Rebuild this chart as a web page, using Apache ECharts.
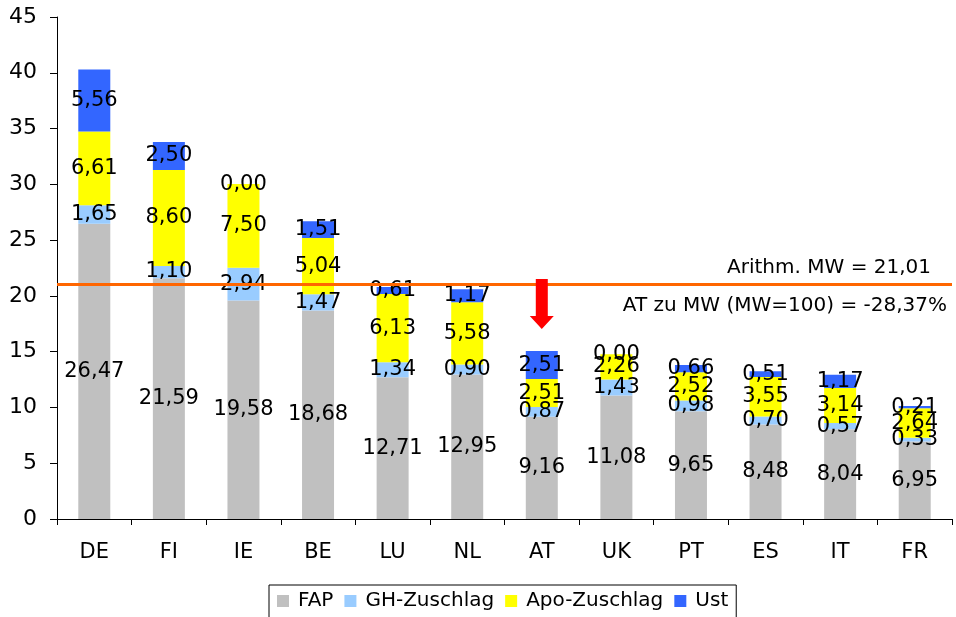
<!DOCTYPE html>
<html>
<head>
<meta charset="utf-8">
<script src="https://cdn.jsdelivr.net/npm/echarts@6/dist/echarts.min.js"></script>
<style>
  html, body { margin: 0; padding: 0; background: #ffffff; }
  #chart { width: 956px; height: 617px; }
</style>
</head>
<body>
<div id="chart"></div>
<script>
// Price components per country (stacked)
const countries = ['DE', 'FI', 'IE', 'BE', 'LU', 'NL', 'AT', 'UK', 'PT', 'ES', 'IT', 'FR'];
const fap         = [26.47, 21.59, 19.58, 18.68, 12.71, 12.95, 9.16, 11.08, 9.65, 8.48, 8.04, 6.95];
const ghZuschlag  = [1.65, 1.10, 2.94, 1.47, 1.34, 0.90, 0.87, 1.43, 0.98, 0.70, 0.57, 0.33];
const apoZuschlag = [6.61, 8.60, 7.50, 5.04, 6.13, 5.58, 2.51, 2.26, 2.52, 3.55, 3.14, 2.64];
const ust         = [5.56, 2.50, 0.00, 1.51, 0.61, 1.17, 2.51, 0.00, 0.66, 0.51, 1.17, 0.21];

const yTicks = { min: 0, max: 45, interval: 5 };
const meanValue = 21.01;
const meanText = 'Arithm. MW = 21,01';
const atText = 'AT zu MW (MW=100) = -28,37%';
const highlight = 'AT';

const FONT = '"DejaVu Sans", Verdana, sans-serif';
const fmt = v => v.toFixed(2).replace('.', ',');

const totals = countries.map((_, i) => fap[i] + ghZuschlag[i] + apoZuschlag[i] + ust[i]);
const hiIdx = countries.indexOf(highlight);

const labelStyle = {
  show: true,
  position: 'inside',
  color: '#000',
  fontFamily: FONT,
  fontSize: 21,
  formatter: p => fmt(p.value)
};

function barSeries(name, data, color) {
  return {
    name, type: 'bar', stack: 'total', data,
    barWidth: 32,
    itemStyle: { color },
    label: labelStyle,
    emphasis: { disabled: true }
  };
}

const series = [
  barSeries('FAP', fap, '#c0c0c0'),
  barSeries('GH-Zuschlag', ghZuschlag, '#99ccff'),
  barSeries('Apo-Zuschlag', apoZuschlag, '#ffff00'),
  barSeries('Ust', ust, '#3366ff')
];

// Mean line with its two annotations
series[3].markLine = {
  silent: true,
  symbol: 'none',
  lineStyle: { color: '#ff6600', width: 3, type: 'solid' },
  label: { color: '#000', fontFamily: FONT, fontSize: 20 },
  data: [
    { yAxis: meanValue, label: { position: 'insideEndTop', formatter: meanText, padding: [0, 16, 2, 0] } },
    { yAxis: meanValue, label: { position: 'insideEndBottom', formatter: atText, padding: [6, 0, 0, 0] } }
  ]
};

// Arrow pointing at the highlighted country
series[3].markPoint = {
  silent: true,
  symbol: 'path://M6,0 L18,0 L18,37 L24,37 L12,50 L0,37 L6,37 Z',
  symbolSize: [24, 50],
  symbolKeepAspect: false,
  symbolOffset: [0, -47],
  itemStyle: { color: '#ff0000' },
  label: { show: false },
  data: [{ coord: [highlight, totals[hiIdx]] }]
};

const chart = echarts.init(document.getElementById('chart'), null, { renderer: 'canvas' });
chart.setOption({
  animation: false,
  backgroundColor: '#ffffff',
  grid: { left: 57, right: 4, top: 17, bottom: 98 },
  legend: {
    left: 269,
    top: 585,
    data: ['FAP', 'GH-Zuschlag', 'Apo-Zuschlag', 'Ust'],
    icon: 'rect',
    itemWidth: 12,
    itemHeight: 12,
    itemGap: 11,
    borderColor: '#000',
    borderWidth: 1,
    borderRadius: 0,
    padding: [6, 8, 12, 8],
    textStyle: { color: '#000', fontFamily: FONT, fontSize: 20, padding: [0, 0, 0, 4] }
  },
  xAxis: {
    type: 'category',
    data: countries,
    axisLine: { lineStyle: { color: '#000', width: 1 } },
    axisTick: { show: true, alignWithLabel: false, length: 6, lineStyle: { color: '#000' } },
    axisLabel: { color: '#000', fontFamily: FONT, fontSize: 21, margin: 23 }
  },
  yAxis: {
    type: 'value',
    min: yTicks.min,
    max: yTicks.max,
    interval: yTicks.interval,
    axisLine: { show: true, lineStyle: { color: '#000', width: 1 } },
    axisTick: { show: true, length: 7, lineStyle: { color: '#000' } },
    splitLine: { show: false },
    axisLabel: { color: '#000', fontFamily: FONT, fontSize: 22, margin: 20 }
  },
  series
});
</script>
</body>
</html>
